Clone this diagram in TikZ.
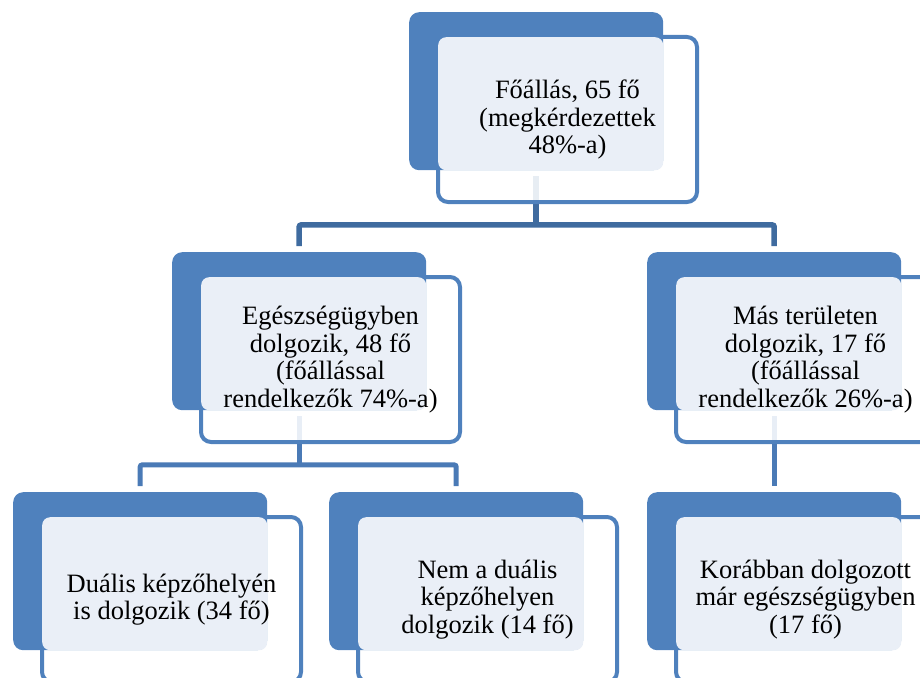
\documentclass[tikz,border=0pt]{standalone}
\usepackage{fontspec}
\setmainfont{Liberation Serif}
\usetikzlibrary{positioning}
\definecolor{unitblue}{HTML}{4F81BD}
\definecolor{lite}{HTML}{EAEFF7}
\definecolor{linkdark}{HTML}{3F6B9F}
\definecolor{linklight}{HTML}{4A7AB6}
\pgfdeclarelayer{bg}
\pgfsetlayers{bg,main}

\begin{document}
\begin{tikzpicture}[x=1pt, y=-1pt,
  rim/.style={draw=unitblue, line width=4pt, fill=white, fill opacity=0.88, rounded corners=10pt, minimum width=259pt, minimum height=165pt, inner sep=0pt, anchor=north west},
  back/.style={fill=unitblue, rounded corners=10pt, minimum width=254pt, minimum height=158pt, inner sep=0pt, anchor=north west},
  pane/.style={fill=lite, rounded corners=8pt, minimum width=225pt, minimum height=133pt, inner sep=0pt, anchor=north west},
  txt/.style={align=center, inner sep=0pt, font=\fontsize{26.5}{27.5}\selectfont},
  link/.style={line width=5.5pt, draw=linkdark, rounded corners=2pt},
  link2/.style={line width=5pt, draw=linklight, rounded corners=2pt}]
\useasboundingbox (0,0) rectangle (920,677);
\clip (0,0) rectangle (920,677);

% top unit
\node[rim] (topR) at (436,35) {};
\node[back] (topB) at ([xshift=-27pt,yshift=23pt]topR.north west) {};
\node[pane] (topP) at ([xshift=2pt,yshift=-2pt]topR.north west) {};
\node[txt] (top) at (topR.center) {Főállás, 65 fő\\(megkérdezettek\\48\%-a)};

% second row
\node[rim] (eduR) at (199,275) {};
\node[back] (eduB) at ([xshift=-27pt,yshift=23pt]eduR.north west) {};
\node[pane] (eduP) at ([xshift=2pt,yshift=-2pt]eduR.north west) {};
\node[txt] (edu) at (eduR.center) {Egészségügyben\\dolgozik, 48 fő\\(főállással\\rendelkezők 74\%-a)};

\node[rim] (masR) at (674,275) {};
\node[back] (masB) at ([xshift=-27pt,yshift=23pt]masR.north west) {};
\node[pane] (masP) at ([xshift=2pt,yshift=-2pt]masR.north west) {};
\node[txt] (mas) at (masR.center) {Más területen\\dolgozik, 17 fő\\(főállással\\rendelkezők 26\%-a)};

% bottom row
\node[rim] (dualR) at (40,515) {};
\node[back] (dualB) at ([xshift=-27pt,yshift=23pt]dualR.north west) {};
\node[pane] (dualP) at ([xshift=2pt,yshift=-2pt]dualR.north west) {};
\node[txt] (dual) at (dualR.center) {Duális képzőhelyén\\is dolgozik (34 fő)};

\node[rim] (nemR) at (356,515) {};
\node[back] (nemB) at ([xshift=-27pt,yshift=23pt]nemR.north west) {};
\node[pane] (nemP) at ([xshift=2pt,yshift=-2pt]nemR.north west) {};
\node[txt] (nem) at (nemR.center) {Nem a duális\\képzőhelyen\\dolgozik (14 fő)};

\node[rim] (korR) at (674,515) {};
\node[back] (korB) at ([xshift=-27pt,yshift=23pt]korR.north west) {};
\node[pane] (korP) at ([xshift=2pt,yshift=-2pt]korR.north west) {};
\node[txt] (kor) at (korR.center) {Korábban dolgozott\\már egészségügyben\\(17 fő)};

% connectors, behind the boxes
\begin{pgfonlayer}{bg}
\coordinate (split1) at ([yshift=-54.5pt]topB.south);
\coordinate (split2) at ([yshift=-54.5pt]eduB.south);
\draw[link] ([yshift=-6pt]topB.south) -- (split1);
\draw[link] ([yshift=6pt]eduB.north) |- (split1) -| ([yshift=6pt]masB.north);
\draw[link2] ([yshift=-6pt]eduB.south) -- (split2);
\draw[link2] ([yshift=6pt]dualB.north) |- (split2) -| ([yshift=6pt]nemB.north);
\draw[link2] ([yshift=-6pt]masB.south) -- ([yshift=6pt]korB.north);
\end{pgfonlayer}
\end{tikzpicture}
\end{document}
